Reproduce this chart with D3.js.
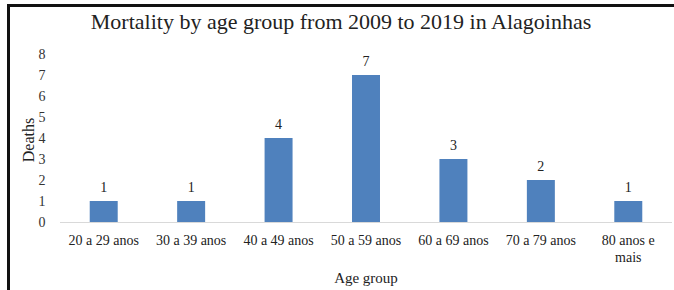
<!DOCTYPE html>
<html>
<head>
<meta charset="utf-8">
<script src="https://cdn.jsdelivr.net/npm/d3@7"></script>
<style>
  body { margin: 0; background: #fff; }
</style>
</head>
<body>
<div id="chart"></div>
<script>
const categories = ["20 a 29 anos", "30 a 39 anos", "40 a 49 anos", "50 a 59 anos", "60 a 69 anos", "70 a 79 anos", "80 anos e mais"];
const deaths = [1, 1, 4, 7, 3, 2, 1];
const yTicks = [0, 1, 2, 3, 4, 5, 6, 7, 8];

const w = 674;
const h = 290;
const margin = { top: 54, right: 2, bottom: 68, left: 60 };
const serif = "'Liberation Serif', 'Times New Roman', Times, 'DejaVu Serif', serif";

const svg = d3.select("#chart")
  .append("svg")
  .attr("width", w)
  .attr("height", h)
  .style("font-family", serif);

// frame (only left and top edges show in the picture)
svg.append("path")
  .attr("d", `M8.5,${h} V5.5 H${w}`)
  .attr("fill", "none")
  .attr("stroke", "#111")
  .attr("stroke-width", 3);

const x = d3.scaleBand()
  .domain(categories)
  .range([margin.left, w - margin.right])
  .paddingInner(0.68)
  .paddingOuter(0.34);

const y = d3.scaleLinear()
  .domain([0, 8])
  .range([h - margin.bottom, margin.top]);

svg.append("text")
  .attr("x", 341)
  .attr("y", 29)
  .attr("text-anchor", "middle")
  .attr("font-family", serif)
  .attr("font-size", 22)
  .attr("fill", "#222")
  .text("Mortality by age group from 2009 to 2019 in Alagoinhas");

// y axis labels only
const yAxis = svg.append("g")
  .attr("transform", `translate(${margin.left - 12},0)`)
  .call(d3.axisLeft(y).tickValues(yTicks).tickSize(0).tickPadding(0).tickFormat(d3.format("d")));
yAxis.attr("font-family", serif).attr("font-size", 14);
yAxis.select(".domain").remove();
yAxis.selectAll("text")
  .attr("text-anchor", "middle")
  .attr("dx", "-6")
  .attr("fill", "#333");

// baseline
svg.append("line")
  .attr("x1", margin.left)
  .attr("x2", w - margin.right)
  .attr("y1", y(0) + 0.5)
  .attr("y2", y(0) + 0.5)
  .attr("stroke", "#d9d9d9");

svg.append("g")
  .selectAll("rect")
  .data(deaths)
  .join("rect")
  .attr("x", (d, i) => x(categories[i]))
  .attr("y", d => y(d))
  .attr("width", x.bandwidth())
  .attr("height", d => y(0) - y(d))
  .attr("fill", "#4f81bd");

svg.append("g")
  .selectAll("text")
  .data(deaths)
  .join("text")
  .attr("x", (d, i) => x(categories[i]) + x.bandwidth() / 2)
  .attr("y", d => y(d) - 9)
  .attr("text-anchor", "middle")
  .attr("font-family", serif)
  .attr("font-size", 14)
  .attr("fill", "#222")
  .text(d => d);

// category labels, wrapped like the original
const catLines = { "80 anos e mais": ["80 anos e", "mais"] };
const xl = svg.append("g");
categories.forEach(c => {
  const lines = catLines[c] || [c];
  const t = xl.append("text")
    .attr("x", x(c) + x.bandwidth() / 2)
    .attr("y", y(0) + 23)
    .attr("text-anchor", "middle")
    .attr("font-family", serif)
    .attr("font-size", 14)
    .attr("fill", "#222");
  lines.forEach((l, i) => {
    t.append("tspan")
      .attr("x", x(c) + x.bandwidth() / 2)
      .attr("dy", i === 0 ? 0 : 17)
      .text(l);
  });
});

svg.append("text")
  .attr("x", 366)
  .attr("y", 283)
  .attr("text-anchor", "middle")
  .attr("font-family", serif)
  .attr("font-size", 15)
  .attr("fill", "#222")
  .text("Age group");

svg.append("text")
  .attr("transform", `translate(34,${(y(0) + y(8)) / 2 + 2}) rotate(-90)`)
  .attr("text-anchor", "middle")
  .attr("font-family", serif)
  .attr("font-size", 16)
  .attr("fill", "#222")
  .text("Deaths");
</script>
</body>
</html>
